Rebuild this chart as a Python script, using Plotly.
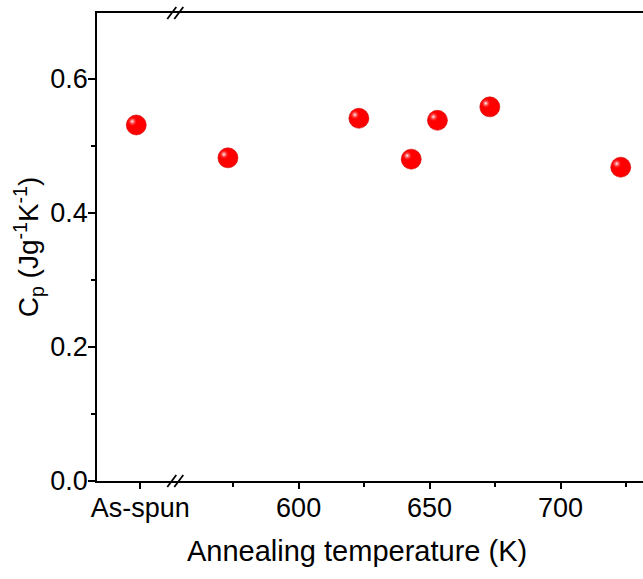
import plotly.graph_objects as go

# ---- data ----
categories = ["As-spun", "573", "623", "643", "653", "673", "723"]
temps_K = [538.0, 573, 623, 643, 653, 673, 723]   # As-spun placed left of the axis break
cp_values = [0.531, 0.482, 0.541, 0.480, 0.538, 0.558, 0.468]
x_tick_vals = [539.5, 600, 650, 700]
x_tick_text = ["As-spun", "600", "650", "700"]
x_minor_vals = [575, 625, 675, 725]
y_tick_vals = [0.0, 0.2, 0.4, 0.6]
y_tick_text = ["0.0", "0.2", "0.4", "0.6"]
y_minor_vals = [0.1, 0.3, 0.5]
break_at = 552.9
x_title = "Annealing temperature (K)"
y_title = "C<sub>p</sub> (Jg<sup>-1</sup>K<sup>-1</sup>)"

# ---- layout constants ----
W, H = 643, 579
ML, MR, MT, MB = 97, 0, 13, 98
XR = [523.0, 731.5]
YR = [0.0, 0.698]
px_per_x = (W - ML - MR) / (XR[1] - XR[0])
px_per_y = (H - MT - MB) / (YR[1] - YR[0])
hl_dx = -4.0 / px_per_x
hl_dy = 3.5 / px_per_y

FONT = "Liberation Sans, Arial, sans-serif"

fig = go.Figure()
fig.add_trace(go.Scatter(
    x=temps_K, y=cp_values, mode="markers",
    marker=dict(size=20, color="#ff0000", line=dict(width=0.6, color="#d00000")),
    hoverinfo="x+y", showlegend=False))
fig.add_trace(go.Scatter(
    x=[v + hl_dx for v in temps_K], y=[v + hl_dy for v in cp_values], mode="markers",
    marker=dict(size=10, color="rgba(255,0,0,0)", line=dict(width=0),
                gradient=dict(type="radial", color="white")),
    hoverinfo="skip", showlegend=False))

axis_common = dict(showgrid=False, zeroline=False, showline=True, linecolor="black",
                   linewidth=1.6, ticks="outside", tickcolor="black", tickwidth=1.6,
                   automargin=False,
                   tickfont=dict(family=FONT, size=27, color="black"))

fig.update_layout(
    width=W, height=H, margin=dict(l=ML, r=MR, t=MT, b=MB, autoexpand=False),
    paper_bgcolor="white", plot_bgcolor="white",
    xaxis=dict(range=XR, tickmode="array", tickvals=x_tick_vals, ticktext=x_tick_text,
               ticklen=6, mirror=True, ticklabelstandoff=-4,
               minor=dict(tickmode="array", tickvals=x_minor_vals, ticks="outside",
                          ticklen=4, tickcolor="black", tickwidth=1.6),
               **axis_common),
    yaxis=dict(range=YR, tickmode="array", tickvals=y_tick_vals, ticktext=y_tick_text,
               ticklen=7, mirror=False, ticklabelstandoff=-5,
               minor=dict(tickmode="array", tickvals=y_minor_vals, ticks="outside",
                          ticklen=4, tickcolor="black", tickwidth=1.6),
               title=dict(text=y_title, standoff=3,
                          font=dict(family=FONT, size=28, color="black")),
               **axis_common),
)

# x-axis title as annotation (centered like the reference)
fig.add_annotation(text=x_title, xref="paper", yref="paper",
                   x=(357 - ML) / (W - ML - MR), y=0, yshift=-52,
                   xanchor="center", yanchor="top", showarrow=False,
                   font=dict(family=FONT, size=29, color="black"))

# axis break marks "//" on bottom and top spines
for yanchor in (0, 1):
    for off in (-4, 3):
        fig.add_shape(type="line", xref="x", yref="paper",
                      xsizemode="pixel", xanchor=break_at, x0=off - 4, x1=off + 5,
                      ysizemode="pixel", yanchor=yanchor, y0=-6, y1=6,
                      line=dict(color="black", width=1.8))

fig.write_html("out.html", config={"displayModeBar": False},
               post_script="document.body.style.margin='0';document.body.style.padding='0';")
